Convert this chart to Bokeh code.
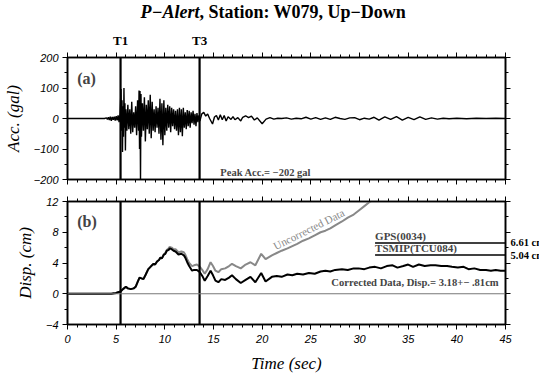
import math
from bokeh.plotting import figure
from bokeh.layouts import column
from bokeh.models import (Range1d, LinearAxis, SingleIntervalTicker, FixedTicker, Span, Label,
                          CustomJSTickFormatter)
from bokeh.core.properties import value
from bokeh.embed import file_html
from bokeh.resources import INLINE

SERIF = "Liberation Serif"
SANS = "Liberation Sans"

# ---- data ----
acc_t = [0, 3.8, 4.0, 4.1, 4.2, 4.3, 4.4, 4.5, 4.6, 4.7, 4.8, 4.9, 5.0, 5.1, 5.2, 5.3, 5.4,
         5.5, 5.55, 5.6, 5.65, 5.7, 5.75, 5.8, 5.85, 5.9, 5.95, 6.0, 6.1, 6.2, 6.3, 6.4, 6.5,
         6.6, 6.7, 6.8, 6.9, 7.0, 7.1, 7.2, 7.3, 7.35, 7.4, 7.45, 7.5, 7.55, 7.6, 7.7, 7.8,
         7.9, 8.0, 8.1, 8.2, 8.3, 8.4, 8.5, 8.6, 8.7, 8.8, 8.9, 9.0, 9.1, 9.2, 9.3, 9.4, 9.5,
         9.6, 9.7, 9.8, 9.9, 10.0, 10.1, 10.2, 10.3, 10.4, 10.5, 10.6, 10.7, 10.8, 10.9, 11.0,
         11.1, 11.2, 11.3, 11.4, 11.5, 11.6, 11.7, 11.8, 11.9, 12.0, 12.1, 12.2, 12.3, 12.4,
         12.5, 12.6, 12.7, 12.8, 12.9, 13.0, 13.1, 13.2, 13.3, 13.4, 13.5, 13.6,
         13.8, 14.0, 14.2, 14.4, 14.6, 14.9, 15.1, 15.3, 15.5, 15.7, 15.9, 16.1, 16.3, 16.5,
         16.8, 17.0, 17.2, 17.5, 17.8, 18.0, 18.3, 18.6, 18.9, 19.2, 19.5, 20.0, 20.4, 20.8,
         21.2, 21.6, 22.0, 22.5, 23.0, 23.5, 24.0, 24.5, 25.0, 25.5, 26.0, 26.5, 27.0, 27.5,
         28.0, 28.5, 29.0, 29.5, 30.0, 30.5, 31.0, 31.5, 32.0, 32.6, 33.2, 33.8, 34.4, 35.0,
         35.6, 36.2, 36.8, 37.4, 38.0, 38.6, 39.2, 40.0, 41.0, 42.0, 43.0, 44.0, 45.0]
acc_v = [0, 0, 2, -3, 4, -5, 6, -8, 5, -4, 6, -7, 8, -6, 10, -12, 15,
         97, -40, 60, -110, 40, -60, 100, -30, 50, -105, 30, -40, 45, -35, 30, -50,
         55, -45, 20, -30, 40, -55, 60, -40, 92, -100, 90, -202, 80, -60, 50, -40,
         70, -75, 45, -35, 60, -50, 78, -65, 55, -40, 30, -45, 40, -30, 35, -50, 65,
         -70, 50, -88, 60, -55, 35, -40, 45, -30, 40, -45, 35, -25, 30, -35,
         25, -40, 30, -55, 35, -45, 30, -58, 35, -30, 20, -35, 28, -25,
         25, -30, 20, -15, 25, -20, 15, -25, 18, -12, 10, -8,
         15, 20, 8, 15, 0, -18, 5, 10, -5, 12, -4, 10, -8, 6,
         -3, 6, -4, 3, -8, 4, 9, 3, 8, -5, 2, -17, -2, 3,
         -2, 1, 0, 2, -2, 1, -1, 4, -2, 3, -3, 2, -3, 4,
         0, -3, 2, 3, -4, 1, -2, 4, -5, 5, -3, 6, -5, 4,
         -4, 5, -3, 2, -2, 1, -1, 1, -1, 1, 0, 1, 0]

disp_t = [0, 4.5, 4.8, 5.0, 5.2, 5.45, 5.7, 6.0, 6.2, 6.5, 6.8, 7.0, 7.2, 7.4, 7.6, 7.8, 8.0,
          8.3, 8.6, 8.85, 9.0, 9.2, 9.4, 9.55, 9.7, 9.9, 10.05, 10.2, 10.4, 10.5, 10.7, 10.9,
          11.1, 11.4, 11.7, 11.95, 12.1, 12.3, 12.5, 12.8, 13.0, 13.3, 13.6, 13.9, 14.1, 14.4,
          14.7, 14.95, 15.2, 15.5, 15.8, 16.2, 16.6, 16.9, 17.3, 17.8, 18.3, 18.8, 19.3, 19.9,
          20.35, 21.0, 21.5, 22.0, 22.6, 23.1, 23.6, 24.2, 24.8, 25.4, 26.0, 26.5, 27.0, 27.5,
          28.2, 28.8, 29.4, 29.9, 30.5, 31.0, 31.6, 32.2, 32.8, 33.4, 33.9, 34.5, 35.0, 35.5,
          36.1, 36.7, 37.3, 37.8, 38.4, 39.0, 39.5, 40.1, 40.7, 41.2, 41.8, 42.4, 43.0, 43.5,
          44.0, 44.5, 45.0]
disp_corrected = [0, 0, 0.05, 0.1, 0.2, 0.3, 0.6, 0.9, 0.7, 0.6, 0.7, 0.9, 1.5, 2.1, 2.0, 1.9, 2.4,
                  3.2, 3.6, 3.9, 3.8, 4.2, 4.4, 4.7, 4.6, 5.1, 5.2, 5.6, 5.7, 5.9, 5.8, 5.6,
                  5.5, 5.1, 5.2, 5.0, 4.7, 4.1, 3.6, 3.0, 3.1, 3.1, 2.8, 2.2, 1.7, 2.3,
                  3.0, 2.4, 1.7, 1.5, 1.9, 1.8, 2.1, 2.4, 1.9, 1.4, 1.8, 2.2, 1.5, 2.7,
                  1.6, 2.2, 2.3, 2.2, 2.5, 2.4, 2.6, 2.5, 2.7, 2.6, 2.9, 3.0, 2.9, 3.1,
                  3.2, 3.1, 3.3, 3.3, 3.2, 3.4, 3.5, 3.3, 3.6, 3.7, 3.4, 3.6, 3.8, 3.5,
                  3.8, 3.6, 3.7, 3.7, 3.6, 3.6, 3.5, 3.4, 3.5, 3.2, 3.3, 3.1, 3.1, 3.0,
                  3.1, 3.0, 3.0]

unc_t = [0, 4.5, 4.8, 5.0, 5.2, 5.45, 5.7, 6.0, 6.2, 6.5, 6.8, 7.0, 7.2, 7.4, 7.6, 7.8, 8.0,
         8.3, 8.6, 8.85, 9.0, 9.2, 9.4, 9.55, 9.7, 9.9, 10.05, 10.2, 10.4, 10.5, 10.7, 10.9,
         11.1, 11.4, 11.7, 11.95, 12.1, 12.3, 12.5, 12.8, 13.0, 13.3, 13.6, 13.9, 14.1, 14.4,
         14.7, 14.95, 15.2, 15.5, 15.8, 16.2, 16.6, 16.9, 17.3, 17.8, 18.3, 18.8, 19.3, 19.9,
         20.35, 21.0, 21.5, 22.0, 22.6, 23.1, 23.6, 24.2, 24.8, 25.4, 26.0, 26.5, 27.0, 27.5,
         28.2, 28.8, 29.4, 29.9, 30.5, 31.0, 31.6]
disp_uncorrected = [0, 0, 0.05, 0.1, 0.2, 0.3, 0.6, 0.9, 0.7, 0.6, 0.7, 0.9, 1.5, 2.1, 2.0, 1.9, 2.4,
                    3.2, 3.6, 3.9, 3.8, 4.2, 4.4, 4.7, 4.6, 5.1, 5.3, 5.7, 5.9, 6.1, 6.0, 5.8,
                    5.8, 5.4, 5.5, 5.4, 5.1, 4.5, 4.0, 3.6, 3.7, 3.8, 3.5, 3.0, 2.6, 3.2,
                    4.1, 3.6, 3.0, 2.8, 3.2, 3.3, 3.6, 3.9, 3.6, 3.3, 3.8, 4.1, 3.7, 5.2,
                    4.5, 5.0, 5.3, 5.6, 5.9, 6.2, 6.5, 6.9, 7.2, 7.6, 8.0, 8.2, 8.5, 8.9,
                    9.4, 9.9, 10.3, 10.8, 11.4, 11.9, 12.4]

t_marks = [5.45, 13.57]
t_mark_labels = ["T1", "T3"]
ref_names = ["GPS(0034)", "TSMIP(TCU084)"]
ref_values = [6.61, 5.04]
ref_unit = "cm"
peak_acc = -202
corr_disp, corr_err = 3.18, 0.81
title_italic = "P\u2212Alert"
title_rest = ", Station: W079, Up\u2212Down"

X_RANGE = (0, 45)
FRAME_W = 438
LEFT = 59
x_range = Range1d(*X_RANGE)


def tick_only_axis(ticker):
    ax = LinearAxis(ticker=ticker)
    ax.axis_line_width = 1.5
    ax.major_tick_out = 5
    ax.major_tick_in = 0
    ax.minor_tick_out = 3
    ax.minor_tick_in = 0
    ax.major_label_text_font_size = "1px"
    ax.major_label_text_color = None
    ax.major_label_standoff = 0
    return ax


def make_panel(yr, yint, ylab, top_b, bot_b, fh, show_x_labels):
    p = figure(frame_width=FRAME_W, frame_height=fh, x_range=x_range, y_range=Range1d(*yr),
               output_backend="svg", toolbar_location=None, x_axis_type=None, y_axis_type=None,
               min_border_left=LEFT, min_border_right=10, min_border_top=top_b,
               min_border_bottom=bot_b)
    p.outline_line_color = "black"
    p.outline_line_width = 1.6
    p.xgrid.grid_line_color = None
    p.ygrid.grid_line_color = None
    xticker = SingleIntervalTicker(interval=5, num_minor_ticks=5)
    yticker = SingleIntervalTicker(interval=yint, num_minor_ticks=2)
    ya = tick_only_axis(yticker)
    ya.major_label_text_font = SANS
    ya.major_label_text_font_style = "italic"
    ya.major_label_text_font_size = "11px"
    ya.major_label_text_color = "black"
    ya.major_label_standoff = 4
    ya.axis_label = ylab
    ya.axis_label_text_font = SERIF
    ya.axis_label_text_font_style = "italic"
    ya.axis_label_text_font_size = "17px"
    ya.axis_label_text_color = "black"
    ya.axis_label_standoff = 8
    ya.major_label_overrides = {v: "\u2212" + str(abs(v)) for v in range(-400, 0, yint) if v >= yr[0]}
    p.add_layout(ya, "left")
    xa = tick_only_axis(xticker)
    if show_x_labels:
        xa.major_label_text_font = SANS
        xa.major_label_text_font_style = "italic"
        xa.major_label_text_font_size = "11px"
        xa.major_label_text_color = "black"
        xa.major_label_standoff = 5
        xa.axis_label = "Time (sec)"
        xa.axis_label_text_font = SERIF
        xa.axis_label_text_font_style = "italic"
        xa.axis_label_text_font_size = "17px"
        xa.axis_label_text_color = "black"
        xa.axis_label_standoff = 8
    p.add_layout(xa, "below")
    p.add_layout(tick_only_axis(SingleIntervalTicker(interval=5, num_minor_ticks=5)), "above")
    p.add_layout(tick_only_axis(SingleIntervalTicker(interval=yint, num_minor_ticks=2)), "right")
    for tm in t_marks:
        p.add_layout(Span(location=tm, dimension="height", line_color="black", line_width=2.2))
    return p


# ---- header (title and time marks) ----
hdr = figure(frame_width=FRAME_W, frame_height=50, x_range=x_range, y_range=Range1d(0, 1),
             output_backend="svg", toolbar_location=None, x_axis_type=None, y_axis_type=None,
             min_border_left=LEFT, min_border_right=10, min_border_top=0, min_border_bottom=0)
hdr.outline_line_color = None
hdr.xgrid.grid_line_color = None
hdr.ygrid.grid_line_color = None
hdr.text(x=[13.55], y=[0.77], text=[title_italic], text_align="right", text_baseline="middle",
         text_font=value(SERIF), text_font_style="bold italic", text_font_size="18px")
hdr.text(x=[13.55], y=[0.77], text=[title_rest], text_align="left", text_baseline="middle",
         text_font=value(SERIF), text_font_style="bold", text_font_size="18px")
hdr.text(x=t_marks, y=[0.2, 0.2], text=t_mark_labels, text_align="center", text_baseline="middle",
         text_font=value(SERIF), text_font_style="bold", text_font_size="13px")

# ---- panel (a) ----
p1 = make_panel((-200, 200), 100, "Acc. (gal)", 7, 6, 122, False)
p1.line(acc_t, acc_v, line_color="black", line_width=1.4)
p1.add_layout(Label(x=1.0, y=131, text="(a)", text_align="left", text_baseline="middle",
                    text_font=SERIF, text_font_style="bold", text_font_size="16px"))
p1.add_layout(Label(x=15.7, y=-177, text=f"Peak Acc.= \u2212{abs(peak_acc)} gal",
                    text_align="left", text_baseline="middle",
                    text_font=SERIF, text_font_style="bold", text_font_size="10.5px"))

# ---- panel (b) ----
p2 = make_panel((-4, 12), 4, "Disp. (cm)", 16, 40, 123, True)
ra = LinearAxis(ticker=FixedTicker(ticks=ref_values, minor_ticks=[]),
                formatter=CustomJSTickFormatter(args=dict(unit=ref_unit),
                                                code="return tick.toFixed(2) + ' ' + unit;"))
ra.axis_line_color = None
ra.major_tick_line_color = None
ra.minor_tick_line_color = None
ra.major_tick_out = 0
ra.major_tick_in = 0
ra.major_label_standoff = 0
ra.major_label_text_font = SERIF
ra.major_label_text_font_style = "bold"
ra.major_label_text_font_size = "10.5px"
ra.major_label_text_color = "black"
p2.add_layout(ra, "right")
p2.add_layout(Span(location=0, dimension="width", line_color="#777777", line_width=1))
p2.line(unc_t, disp_uncorrected, line_color="#888888", line_width=2)
p2.line(disp_t, disp_corrected, line_color="black", line_width=2)
for nm, rv in zip(ref_names, ref_values):
    p2.segment(x0=[31.6], y0=[rv], x1=[45], y1=[rv], line_color="black", line_width=1.5)
    p2.add_layout(Label(x=31.6, y=rv, y_offset=1, text=nm, text_align="left",
                        text_baseline="bottom", text_font=SERIF, text_font_style="bold",
                        text_font_size="11px"))
p2.add_layout(Label(x=44.3, y=1.4,
                    text=f"Corrected Data, Disp.= {corr_disp:.2f}+\u2212 .{int(round(corr_err * 100))}cm",
                    text_align="right", text_baseline="middle", text_font=SERIF,
                    text_font_style="bold", text_font_size="10.6px"))
p2.add_layout(Label(x=24.8, y=8.4, text="Uncorrected Data", angle=math.radians(26.5),
                    text_align="center", text_baseline="middle", text_font=SERIF,
                    text_font_size="11px", text_color="#888888"))
p2.add_layout(Label(x=1.0, y=9.4, text="(b)", text_align="left", text_baseline="middle",
                    text_font=SERIF, text_font_style="bold", text_font_size="16px"))

layout = column(hdr, p1, p2, spacing=0)
open("out.html", "w").write(file_html(layout, INLINE))
